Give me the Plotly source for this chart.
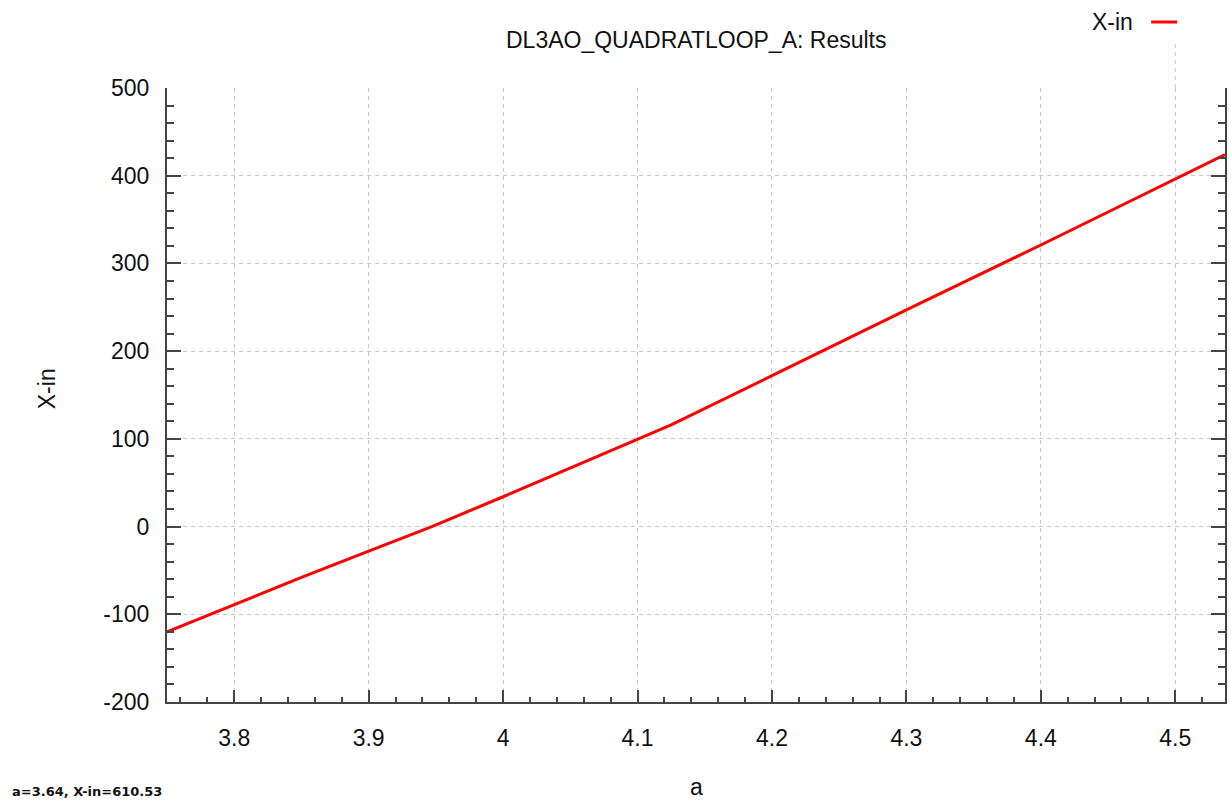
import plotly.graph_objects as go

# Sweep results: loop dimension a versus input reactance X-in
a_values = [3.75, 3.80, 3.85, 3.90, 3.947, 4.00, 4.05, 4.10, 4.125, 4.20, 4.30, 4.40, 4.50, 4.537]
x_in_values = [-120, -89, -58, -28, 0, 34, 67, 100, 116, 172, 247, 321, 396, 424]

series_name = "X-in"
chart_title = "DL3AO_QUADRATLOOP_A: Results"
x_label = "a"
y_label = "X-in"
status_text = "a=3.64, X-in=610.53"

x_range = [3.75, 4.537]
y_range = [-200, 500]
y_tick_values = [-200, -100, 0, 100, 200, 300, 400, 500]
y_tick_labels = ["-200", "-100", "0", "100", "200", "300", "400", "500"]

FONT = "Liberation Sans, Arial, sans-serif"
FS = 23
RED = "#ff0000"
AXIS = "#444444"
GRID = "#c8c8c8"
INK = "#111111"

fig = go.Figure()
fig.add_trace(go.Scatter(
    x=a_values, y=x_in_values, mode="lines", name=series_name,
    line=dict(color=RED, width=3), showlegend=False,
))

axis_common = dict(
    showline=True, linecolor=AXIS, linewidth=2,
    ticks="inside", tickcolor=AXIS, tickwidth=2,
    showgrid=True, gridcolor=GRID, gridwidth=1, griddash="4px,4px",
    zeroline=False,
    tickfont=dict(family=FONT, size=FS, color=INK),
)

fig.update_xaxes(
    range=x_range, dtick=0.1, tick0=3.8, ticklen=12,
    ticklabelstandoff=14,
    minor=dict(ticks="inside", ticklen=5, dtick=0.02, tick0=3.8,
               tickcolor=AXIS, tickwidth=2, showgrid=False),
    **axis_common,
)
fig.update_yaxes(
    range=y_range, tickmode="array", tickvals=y_tick_values, ticktext=y_tick_labels,
    ticklen=14, mirror="allticks", ticklabelstandoff=11,
    minor=dict(ticks="inside", ticklen=7, dtick=20, tick0=0,
               tickcolor=AXIS, tickwidth=2, showgrid=False),
    **axis_common,
)

def label(text, x, y, xanchor="center", angle=0, font=None):
    return dict(text=text, x=x, y=y, xref="paper", yref="paper",
                xanchor=xanchor, yanchor="middle", textangle=angle,
                showarrow=False,
                font=font or dict(family=FONT, size=FS, color=INK))

annotations = [
    label(chart_title, 0.5, (702 - 40) / 614),
    label(x_label, (697 - 167) / 1060, (702 - 787) / 614),
    label(y_label, (47 - 167) / 1060, (702 - 389) / 614, angle=-90),
    label(status_text, (10 - 167) / 1060, (702 - 791) / 614, xanchor="left",
          font=dict(family="DejaVu Sans", size=13, color=INK, weight="bold")),
    # legend label, placed left of its swatch
    label(series_name, (1137 - 167) / 1060, (702 - 22) / 614, xanchor="right"),
]

shapes = [
    # legend swatch
    dict(type="line", xref="paper", yref="paper",
         x0=(1153 - 167) / 1060, x1=(1179 - 167) / 1060,
         y0=(702 - 22) / 614, y1=(702 - 22) / 614,
         line=dict(color=RED, width=3)),
    # grid line at a=4.5 continuing above the frame
    dict(type="line", xref="x", yref="paper", x0=4.5, x1=4.5,
         y0=1.0, y1=(702 - 43) / 614,
         line=dict(color=GRID, width=1, dash="4px,4px")),
]

fig.update_layout(
    width=1230, height=800,
    margin=dict(l=167, r=3, t=88, b=98),
    paper_bgcolor="white", plot_bgcolor="white",
    annotations=annotations, shapes=shapes,
)

fig.write_html("out.html")
